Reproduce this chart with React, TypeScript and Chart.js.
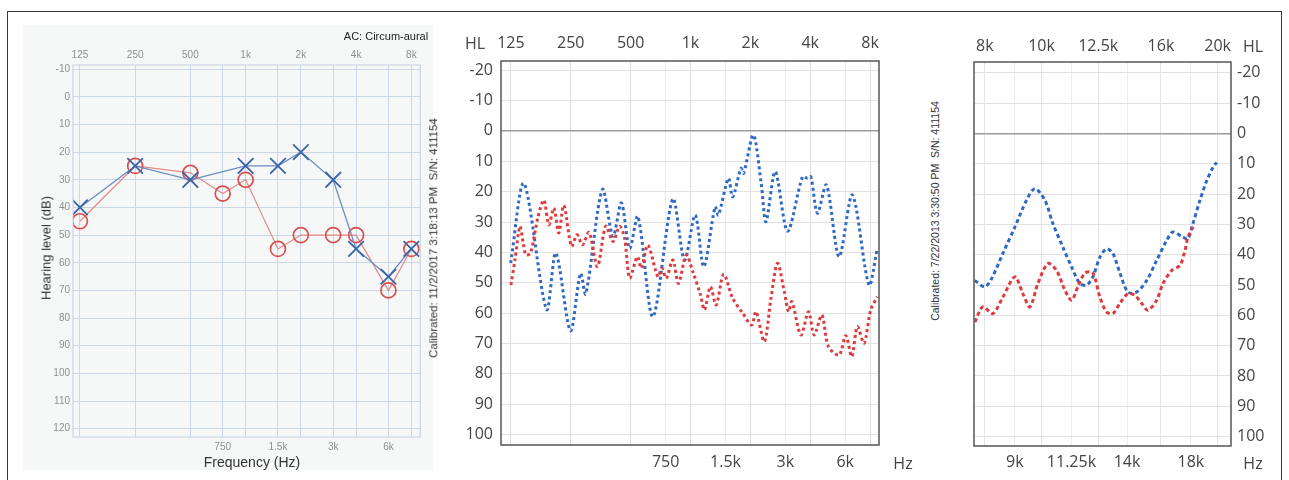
import React, { useEffect, useRef } from "react";
import { Chart, registerables } from "chart.js";

Chart.register(...registerables);

// ---------------- Panel 1: pure-tone audiogram ----------------
const acTopFreqs = [125, 250, 500, 1000, 2000, 4000, 8000];
const acTopLabels = ["125", "250", "500", "1k", "2k", "4k", "8k"];
const acBottomFreqs = [750, 1500, 3000, 6000];
const acBottomLabels = ["750", "1.5k", "3k", "6k"];
const acLevelTicks = [-10, 0, 10, 20, 30, 40, 50, 60, 70, 80, 90, 100, 110, 120];

const crossEarFreqs = [125, 250, 500, 1000, 1500, 2000, 3000, 4000, 6000, 8000];
const crossEarDb = [40, 25, 30, 25, 25, 20, 30, 55, 65, 55];
const circleEarFreqs = [125, 250, 500, 750, 1000, 1500, 2000, 3000, 4000, 6000, 8000];
const circleEarDb = [45, 25, 27.5, 35, 30, 55, 50, 50, 50, 70, 55];

// ---------------- Panel 2: 125 Hz - 8 kHz sweep ----------------
const midTopFreqs = [125, 250, 500, 1000, 2000, 4000, 8000];
const midTopLabels = ["125", "250", "500", "1k", "2k", "4k", "8k"];
const midBottomFreqs = [750, 1500, 3000, 6000];
const midBottomLabels = ["750", "1.5k", "3k", "6k"];
const midLevelTicks = [-20, -10, 0, 10, 20, 30, 40, 50, 60, 70, 80, 90, 100];

const midBlueFreqs = [124.6, 145.3, 188.8, 210.2, 249.1, 279.7, 297.3, 360.5, 407.5, 449.1, 494.3, 544, 647, 815, 933, 1056, 1167, 1330, 1382, 1551, 1630, 1796, 1851, 2071, 2263, 2398, 2670, 3077, 3660, 3878, 4032, 4352, 4829, 5591, 6520, 7908, 8704];
const midBlueDb = [43.5, 17.3, 58.8, 40.2, 65.8, 46.9, 53.7, 19.3, 34.7, 23.7, 38.7, 28.2, 61.2, 22.4, 42.5, 27.7, 44.7, 25, 27.7, 15.6, 21.7, 12.3, 14, 1.4, 16.7, 29.9, 13.4, 33, 15.1, 15.6, 15.1, 27.1, 17.8, 41.4, 21.1, 50.7, 38.7];

const midRedFreqs = [125, 130.9, 138.7, 144.1, 148.7, 156.9, 171.3, 183, 193.9, 205.4, 217.6, 230.6, 252, 268.9, 286.2, 308.9, 340.3, 374.6, 407.5, 440.4, 466.5, 494.3, 540.3, 565.8, 610.7, 685.4, 717.8, 755.3, 815, 870.6, 951.6, 1027, 1123, 1176, 1260, 1346, 1469, 1630, 1830, 2030, 2136, 2352, 2540, 2741, 2962, 3113, 3238, 3593, 3923, 4189, 4579, 4943, 5591, 6042, 6476, 6908, 7465, 8065, 8704];
const midRedDb = [50.7, 42.5, 31.4, 36.9, 40.8, 40.2, 28.1, 22.8, 30.9, 25.4, 33.6, 24.5, 38, 34.2, 37.5, 33.4, 44.7, 31.4, 36.4, 31.4, 35.4, 48.5, 41.4, 45.2, 37.6, 48, 45.2, 48.5, 42.5, 50.2, 40.9, 46.3, 54, 58.9, 51.3, 57.3, 47.2, 55.1, 60, 63.9, 59.5, 69.4, 55.1, 43.6, 52.9, 59.5, 56.2, 67.2, 59.5, 67.2, 60.6, 71, 73.8, 67.4, 74.3, 64.4, 69.9, 58.9, 54.6];

// ---------------- Panel 3: 8 kHz - 20 kHz sweep ----------------
const hfTopFreqs = [8000, 10000, 12500, 16000, 20000];
const hfTopLabels = ["8k", "10k", "12.5k", "16k", "20k"];
const hfBottomFreqs = [9000, 11250, 14000, 18000];
const hfBottomLabels = ["9k", "11.25k", "14k", "18k"];
const hfLevelTicks = [-20, -10, 0, 10, 20, 30, 40, 50, 60, 70, 80, 90, 100];

const hfBlueFreqs = [7691, 8000, 8214, 8587, 9003, 9427, 9741, 10133, 10457, 10877, 11255, 11630, 11941, 12241, 12583, 12920, 13245, 13614, 14050, 14541, 15126, 15730, 16362, 16774, 17448, 17795, 18149, 18656, 19156, 19637, 19925];
const hfBlueDb = [48.5, 50.6, 47.9, 39.6, 30.9, 22, 18.2, 22, 29.7, 37.5, 44, 49.5, 50, 47.3, 40.8, 38, 39.6, 46, 52.3, 52.3, 48.5, 41.9, 35.3, 32.5, 34.2, 34.7, 29.7, 22, 15.6, 11.2, 9.5];
const hfRedFreqs = [7691, 7937, 8256, 8587, 9003, 9291, 9551, 9857, 10253, 10610, 10962, 11255, 11538, 11862, 12241, 12583, 12920, 13245, 13614, 14050, 14444, 14830, 15202, 15730, 16126, 16688, 17243, 17586, 17795, 18149];
const hfRedDb = [62.2, 57.2, 59.4, 54, 47.3, 52.8, 57.2, 49.5, 42.9, 45.2, 51.7, 55, 50.6, 46, 46, 54, 58.9, 59.4, 56, 52.8, 53.4, 56, 58.3, 55, 49.5, 45.2, 43.5, 38.6, 34.2, 30.9];

const pts = (xs: number[], ys: number[]) => xs.map((x, i) => ({ x, y: ys[i] }));
const fixedTicks = (values: number[]) => (axis: any) => {
  axis.ticks = values.map((v) => ({ value: v }));
};
const framePlugin = (color: string, width: number) => ({
  id: "frame",
  afterDatasetsDraw(chart: any) {
    const { ctx, chartArea: a } = chart;
    ctx.save();
    ctx.strokeStyle = color;
    ctx.lineWidth = width;
    ctx.strokeRect(a.left, a.top, a.right - a.left, a.bottom - a.top);
    ctx.restore();
  },
});

const SEGOE = "'Open Sans', 'Noto Sans', sans-serif";
const ARIAL = "'Liberation Sans', Arial, sans-serif";

function logAxis(opts: {
  pos: "top" | "bottom";
  min: number;
  max: number;
  values: number[];
  labels: string[];
  size: number;
  pad: number;
  font: any;
  color: string;
  grid: string;
}) {
  return {
    type: "logarithmic",
    position: opts.pos,
    min: opts.min,
    max: opts.max,
    afterBuildTicks: fixedTicks(opts.values),
    afterFit: (s: any) => {
      s.height = opts.size;
    },
    ticks: {
      callback: (_v: any, i: number) => opts.labels[i],
      padding: opts.pad,
      font: opts.font,
      color: opts.color,
      autoSkip: false,
      maxRotation: 0,
      minRotation: 0,
    },
    grid: { color: opts.grid, drawTicks: false, lineWidth: 1 },
    border: { display: false },
  };
}

export default function App() {
  const c1 = useRef<HTMLCanvasElement>(null);
  const c2 = useRef<HTMLCanvasElement>(null);
  const c3 = useRef<HTMLCanvasElement>(null);

  useEffect(() => {
    const charts: Chart[] = [];

    // Panel 1
    const gridBlue = "#c9d7e6";
    const f1 = { family: ARIAL, size: 10 };
    charts.push(
      new Chart(c1.current as HTMLCanvasElement, {
        type: "line",
        data: {
          datasets: [
            {
              data: pts(crossEarFreqs, crossEarDb),
              borderColor: "#6a8cc0",
              borderWidth: 1.3,
              pointStyle: "crossRot",
              pointRadius: 11,
              pointBorderWidth: 1.8,
              pointBorderColor: "#3b64a8",
              pointBackgroundColor: "transparent",
              tension: 0,
            },
            {
              data: pts(circleEarFreqs, circleEarDb),
              borderColor: "#e38a8a",
              borderWidth: 1.2,
              pointStyle: "circle",
              pointRadius: 7.5,
              pointBorderWidth: 1.7,
              pointBorderColor: "#d95050",
              pointBackgroundColor: "transparent",
              tension: 0,
            },
          ] as any,
        },
        options: {
          animation: false,
          responsive: false,
          devicePixelRatio: 1,
          layout: { padding: { left: 0, right: 10, top: 0, bottom: 0 } },
          plugins: { legend: { display: false }, tooltip: { enabled: false } },
          scales: {
            x: logAxis({ pos: "bottom", min: 114.6, max: 8940, values: acBottomFreqs, labels: acBottomLabels, size: 33, pad: 4, font: f1, color: "#8f8f8f", grid: gridBlue }) as any,
            x2: logAxis({ pos: "top", min: 114.6, max: 8940, values: acTopFreqs, labels: acTopLabels, size: 40, pad: 4, font: f1, color: "#8f8f8f", grid: gridBlue }) as any,
            y: {
              type: "linear",
              reverse: true,
              min: -11.5,
              max: 123,
              afterBuildTicks: fixedTicks(acLevelTicks),
              afterFit: (s: any) => {
                s.width = 50;
              },
              ticks: { padding: 3, font: f1, color: "#8f8f8f", autoSkip: false },
              grid: { color: gridBlue, drawTicks: false },
              border: { display: false },
            },
          },
        } as any,
        plugins: [framePlugin("#c2d0e0", 1)],
      })
    );

    // Panel 2
    const f2 = { family: SEGOE, size: 16 };
    const midGrid = (ctx: any) =>
      ctx.tick && ctx.tick.value === 0 ? "#9c9c9c" : "#e2e2e2";
    charts.push(
      new Chart(c2.current as HTMLCanvasElement, {
        type: "line",
        data: {
          datasets: [
            {
              data: pts(midRedFreqs, midRedDb),
              borderColor: "#e03a3e",
              borderWidth: 3,
              borderDash: [3, 3],
              pointRadius: 0,
              tension: 0.3,
            },
            {
              data: pts(midBlueFreqs, midBlueDb),
              borderColor: "#2f69c6",
              borderWidth: 3,
              borderDash: [3, 3],
              pointRadius: 0,
              tension: 0.3,
            },
          ] as any,
        },
        options: {
          animation: false,
          responsive: false,
          devicePixelRatio: 1,
          layout: { padding: { left: 0, right: 36, top: 0, bottom: 0 } },
          plugins: { legend: { display: false }, tooltip: { enabled: false } },
          scales: {
            x: logAxis({ pos: "bottom", min: 111.4, max: 8877, values: midBottomFreqs, labels: midBottomLabels, size: 35, pad: 8, font: f2, color: "#444", grid: "#ececec" }) as any,
            x2: logAxis({ pos: "top", min: 111.4, max: 8877, values: midTopFreqs, labels: midTopLabels, size: 36, pad: 8, font: f2, color: "#444", grid: "#dedede" }) as any,
            y: {
              type: "linear",
              reverse: true,
              min: -23,
              max: 103.4,
              afterBuildTicks: fixedTicks(midLevelTicks),
              afterFit: (s: any) => {
                s.width = 56;
              },
              ticks: { padding: 8, font: f2, color: "#444", autoSkip: false },
              grid: { color: midGrid, drawTicks: false, lineWidth: (ctx: any) => (ctx.tick && ctx.tick.value === 0 ? 1.5 : 1) },
              border: { display: false },
            },
          },
        } as any,
        plugins: [framePlugin("#555", 1.5)],
      })
    );

    // Panel 3
    charts.push(
      new Chart(c3.current as HTMLCanvasElement, {
        type: "line",
        data: {
          datasets: [
            {
              data: pts(hfRedFreqs, hfRedDb),
              borderColor: "#e03a3e",
              borderWidth: 3,
              borderDash: [4, 3],
              pointRadius: 0,
              tension: 0.3,
            },
            {
              data: pts(hfBlueFreqs, hfBlueDb),
              borderColor: "#2f69c6",
              borderWidth: 3,
              borderDash: [4, 3],
              pointRadius: 0,
              tension: 0.3,
            },
          ] as any,
        },
        options: {
          animation: false,
          responsive: false,
          devicePixelRatio: 1,
          layout: { padding: { left: 14, right: 0, top: 0, bottom: 0 } },
          plugins: { legend: { display: false }, tooltip: { enabled: false } },
          scales: {
            x: logAxis({ pos: "bottom", min: 7666, max: 21080, values: hfBottomFreqs, labels: hfBottomLabels, size: 34, pad: 7, font: f2, color: "#444", grid: "#ececec" }) as any,
            x2: logAxis({ pos: "top", min: 7666, max: 21080, values: hfTopFreqs, labels: hfTopLabels, size: 37, pad: 6, font: f2, color: "#444", grid: "#e4e4e4" }) as any,
            y: {
              type: "linear",
              position: "right",
              reverse: true,
              min: -23.6,
              max: 103.1,
              afterBuildTicks: fixedTicks(hfLevelTicks),
              afterFit: (s: any) => {
                s.width = 49;
              },
              ticks: { padding: 6, font: f2, color: "#444", autoSkip: false },
              grid: { color: midGrid, drawTicks: false, lineWidth: (ctx: any) => (ctx.tick && ctx.tick.value === 0 ? 1.5 : 1) },
              border: { display: false },
            },
          },
        } as any,
        plugins: [framePlugin("#555", 1.5)],
      })
    );

    return () => charts.forEach((c) => c.destroy());
  }, []);

  const abs = (l: number, t: number): React.CSSProperties => ({ position: "absolute", left: l, top: t });
  const centered = (cx: number, cy: number, rot: number, extra: React.CSSProperties): React.CSSProperties => ({
    position: "absolute",
    left: cx,
    top: cy,
    transform: `translate(-50%, -50%) rotate(${rot}deg)`,
    whiteSpace: "pre",
    lineHeight: 1,
    ...extra,
  });

  return (
    <div style={{ position: "fixed", left: 0, top: 0, width: 1289, height: 480, background: "#fff", overflow: "hidden" }}>
      <div style={{ position: "absolute", left: 7, top: 11, width: 1273, height: 480, border: "1.5px solid #3a3a3a" }} />
      <div style={{ position: "absolute", left: 23, top: 25, width: 410, height: 445, background: "#f6f7f7" }} />
      <canvas ref={c1} width={410} height={445} style={{ ...abs(23, 25), width: 410, height: 445 }} />
      <canvas ref={c2} width={470} height={455} style={{ ...abs(445, 25), width: 470, height: 455 }} />
      <canvas ref={c3} width={320} height={455} style={{ ...abs(960, 25), width: 320, height: 455 }} />

      <div style={centered(386, 36, 0, { fontFamily: ARIAL, fontSize: 11, color: "#222" })}>AC: Circum-aural</div>
      <div style={centered(46, 248, -90, { fontFamily: ARIAL, fontSize: 13, color: "#333" })}>Hearing level (dB)</div>
      <div style={centered(252, 462, 0, { fontFamily: ARIAL, fontSize: 14, color: "#333" })}>Frequency (Hz)</div>
      <div style={centered(434, 238, -90, { fontFamily: ARIAL, fontSize: 11.5, color: "#333" })}>Calibrated: 11/2/2017 3:18:13 PM  S/N: 411154</div>

      <div style={centered(475, 43, 0, { fontFamily: SEGOE, fontSize: 16, color: "#444" })}>HL</div>
      <div style={centered(903, 463, 0, { fontFamily: SEGOE, fontSize: 16, color: "#444" })}>Hz</div>

      <div style={centered(935, 211, -90, { fontFamily: ARIAL, fontSize: 10.5, color: "#333" })}>Calibrated: 7/22/2013 3:30:50 PM  S/N: 411154</div>
      <div style={centered(1253, 46, 0, { fontFamily: SEGOE, fontSize: 16, color: "#444" })}>HL</div>
      <div style={centered(1253, 463, 0, { fontFamily: SEGOE, fontSize: 16, color: "#444" })}>Hz</div>
    </div>
  );
}
